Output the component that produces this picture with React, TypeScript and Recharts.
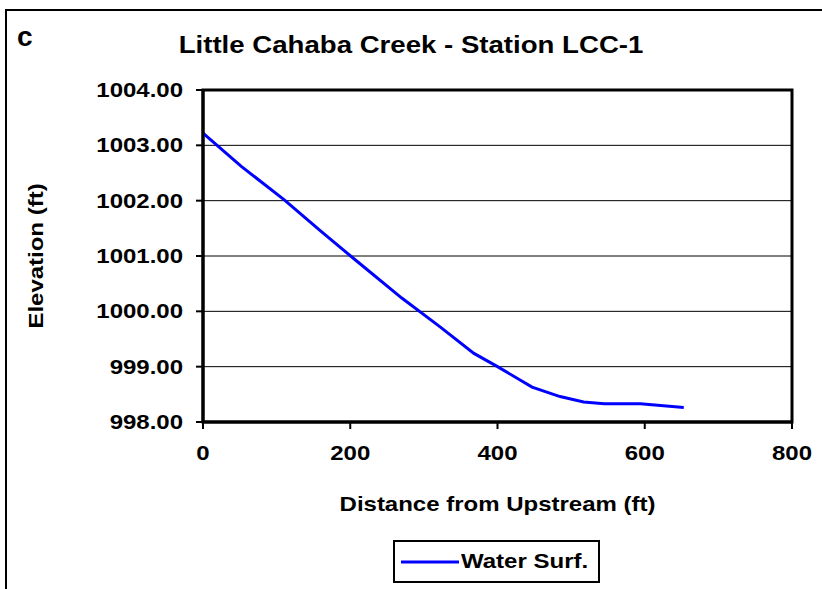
import React from "react";
import { LineChart, Line, XAxis, YAxis, CartesianGrid, ReferenceArea, Legend } from "recharts";

// distance from upstream (ft) and water surface elevation (ft)
const distance = [0, 52, 110, 160, 205, 270, 322, 368, 400, 447, 485, 517, 545, 594, 653];
const waterSurf = [1003.22, 1002.62, 1002.02, 1001.45, 1000.95, 1000.24, 999.72, 999.24, 999.0, 998.63, 998.46, 998.36, 998.33, 998.33, 998.26];

const xTicks = [0, 200, 400, 600, 800];
const yTicks = [998, 999, 1000, 1001, 1002, 1003, 1004];

const chartData = distance.map((d, i) => ({ dist: d, ws: waterSurf[i] }));

const FONT = "'Liberation Sans', Arial, sans-serif";
const WIDE = 1.2; // reference text is drawn a bit wider than Arial

const XTick = (props: any) => {
    const { x, y, payload } = props;
    return (
        <text transform={`translate(${x},${y}) scale(${WIDE},1)`} dy="0.71em" textAnchor="middle"
            fill="#000" fontSize={20} fontWeight="bold" fontFamily={FONT}>
            {payload.value}
        </text>
    );
};

const YTick = (props: any) => {
    const { x, y, payload } = props;
    return (
        <text transform={`translate(${x},${y}) scale(${WIDE},1)`} dy="0.355em" textAnchor="end"
            fill="#000" fontSize={20} fontWeight="bold" fontFamily={FONT}>
            {Number(payload.value).toFixed(2)}
        </text>
    );
};

const XTitle = (props: any) => {
    const { viewBox } = props;
    const cx = viewBox.x + viewBox.width / 2;
    const cy = viewBox.y + viewBox.height - 18;
    return (
        <text transform={`translate(${cx},${cy}) scale(${WIDE},1)`} textAnchor="middle" dy="0.355em"
            fill="#000" fontSize={20} fontWeight="bold" fontFamily={FONT}>
            Distance from Upstream (ft)
        </text>
    );
};

const YTitle = () => (
    <text transform={`translate(36,256) rotate(-90) scale(${WIDE},1)`} textAnchor="middle" dy="0.355em"
        fill="#000" fontSize={20} fontWeight="bold" fontFamily={FONT}>
        Elevation (ft)
    </text>
);

const renderLegend = () => (
    <div style={{
        border: "2px solid #000", boxSizing: "border-box", width: 207, height: 43,
        display: "flex", alignItems: "center", fontFamily: FONT, fontWeight: "bold", fontSize: 20, background: "#fff"
    }}>
        <svg width={66} height={10}>
            <line x1={6} y1={5} x2={64} y2={5} stroke="#0000FF" strokeWidth={3} />
        </svg>
        <span style={{ display: "inline-block", transform: `scaleX(${WIDE})`, transformOrigin: "left center" }}>Water Surf.</span>
    </div>
);

const App: React.FC = () => {
    return (
        <div style={{ position: "absolute", left: 0, top: 0, width: 822, height: 589, background: "#fff", overflow: "hidden" }}>
            <div style={{ position: "absolute", left: 5, top: 9, width: 900, height: 700, borderLeft: "2px solid #000", borderTop: "2px solid #000" }} />
            <div style={{ position: "absolute", left: 17, top: 21, fontFamily: FONT, fontWeight: "bold", fontSize: 28 }}>c</div>
            <div style={{ position: "absolute", left: 0, width: 822, top: 31, textAlign: "center", fontFamily: FONT, fontWeight: "bold", fontSize: 24 }}>
                <span style={{ display: "inline-block", transform: "scaleX(1.15)" }}>Little Cahaba Creek - Station LCC-1</span>
            </div>
            <LineChart width={822} height={589} data={chartData} margin={{ top: 90, right: 30, left: 3, bottom: 67 }} style={{ position: "absolute", left: 0, top: 0 }}>
                <CartesianGrid vertical={false} stroke="#000" strokeWidth={1} />
                <XAxis dataKey="dist" type="number" domain={[0, 800]} ticks={xTicks} height={100}
                    axisLine={{ stroke: "#000", strokeWidth: 3 }} tickLine={{ stroke: "#000", strokeWidth: 2 }} tickSize={7} tickMargin={17}
                    tick={<XTick />}
                    label={<XTitle />} />
                <YAxis type="number" domain={[998, 1004]} ticks={yTicks} width={200} interval={0}
                    axisLine={{ stroke: "#000", strokeWidth: 3 }} tickLine={{ stroke: "#000", strokeWidth: 2 }} tickSize={7} tickMargin={13}
                    tick={<YTick />}
                    label={<YTitle />} />
                <ReferenceArea x1={0} x2={800} y1={998} y2={1004} fill="none" stroke="#000" strokeWidth={3} ifOverflow="visible" />
                <Line type="linear" dataKey="ws" name="Water Surf." stroke="#0000FF" strokeWidth={3} dot={false} isAnimationActive={false} />
                <Legend layout="horizontal" verticalAlign="middle" align="center" content={renderLegend}
                    wrapperStyle={{ top: 540, left: 393, width: 207, height: 43 }} />
            </LineChart>
        </div>
    );
};

export default App;
